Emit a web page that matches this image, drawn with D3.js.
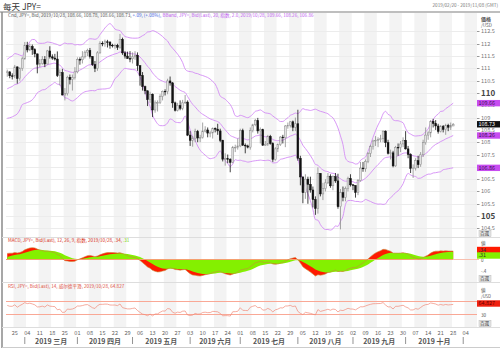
<!DOCTYPE html>
<html>
<head>
<meta charset="utf-8">
<script src="https://cdn.jsdelivr.net/npm/d3@7"></script>
<style>
  body { margin: 0; background: #fff; }
  svg { display: block; font-family: "Noto Sans CJK SC", "Noto Sans", sans-serif; }
</style>
</head>
<body>
<script>
// ---- data -------------------------------------------------------------
const title = "每天 JPY=";
const rangeText = "2019/02/20 - 2019/11/08 (GMT)";
const firstDay = new Date(Date.UTC(2019, 1, 20));
const lastDay = new Date(Date.UTC(2019, 10, 8));

// closes before the visible window (indicator warm-up)
const preCloses = [113.35, 112.51, 112.46, 111.42, 111.23, 110.29, 110.40, 111.35, 110.98, 110.28, 109.69,
  108.88, 107.67, 108.48, 108.71, 108.74, 108.17, 108.42, 108.48, 108.16, 108.66, 108.95, 109.23, 109.76,
  109.65, 109.37, 109.60, 109.63, 109.54, 109.36, 109.37, 109.00, 108.88, 109.49, 109.92, 109.96, 109.97,
  109.79, 109.73, 110.38, 110.48, 111.03, 110.47, 110.49, 110.62, 110.62];

// daily candles [open, high, low, close], 2019/02/20 .. 2019/10/28
const ohlc = [
  [110.84,110.95,110.66,110.86],[110.86,110.88,110.60,110.70],[110.70,110.80,110.55,110.69],
  [110.69,111.14,110.60,111.06],[111.06,111.08,110.38,110.59],[110.59,111.05,110.50,111.00],[111.00,111.48,110.90,111.39],[111.39,112.07,111.35,111.93],
  [111.93,112.08,111.65,111.75],[111.75,112.00,111.70,111.89],[111.89,111.97,111.55,111.76],[111.76,111.82,111.45,111.59],[111.59,111.60,110.80,111.17],
  [111.17,111.38,111.05,111.20],[111.20,111.50,111.15,111.36],[111.36,111.50,111.05,111.18],[111.18,111.75,111.16,111.71],[111.71,111.90,111.40,111.47],
  [111.47,111.57,111.35,111.42],[111.42,111.59,111.32,111.38],[111.38,111.69,110.65,110.71],[110.71,110.96,110.30,110.83],[110.83,110.98,109.90,109.92],
  [109.92,110.20,109.70,109.97],[109.97,110.70,109.90,110.64],[110.64,110.75,110.35,110.55],[110.55,110.75,110.10,110.63],[110.63,111.05,110.55,110.86],
  [110.86,111.45,110.80,111.36],[111.36,111.45,111.15,111.35],[111.35,111.70,111.20,111.47],[111.47,111.73,111.40,111.66],[111.66,111.80,111.50,111.73],
  [111.73,111.83,111.40,111.48],[111.48,111.50,111.10,111.15],[111.15,111.30,110.85,111.00],[111.00,111.70,110.90,111.63],[111.63,112.10,111.60,112.02],
  [112.02,112.10,111.90,112.01],[112.01,112.17,111.88,112.08],[112.08,112.16,111.85,112.07],[112.07,112.10,111.80,111.94],[111.94,112.00,111.85,111.93],
  [111.93,112.00,111.80,111.94],[111.94,112.00,111.75,111.86],[111.86,112.40,111.80,112.18],[112.18,112.25,111.55,111.63],[111.63,111.70,111.40,111.50],
  [111.50,111.68,111.40,111.40],[111.40,111.70,111.25,111.39],[111.39,111.65,111.20,111.47],[111.47,111.70,111.35,111.53],[111.53,111.65,110.90,111.11],
  [111.11,111.12,110.30,110.71],[110.71,110.85,110.10,110.26],[110.26,110.30,109.95,110.09],[110.09,110.10,109.47,109.73],[109.73,110.05,109.60,109.95],
  [109.95,109.98,109.02,109.31],[109.31,109.70,109.20,109.60],[109.60,109.70,109.25,109.61],[109.61,109.95,109.55,109.86],[109.86,110.10,109.70,110.07],
  [110.07,110.15,109.90,110.06],[110.06,110.58,109.95,110.49],[110.49,110.67,110.30,110.41],[110.41,110.45,109.40,109.60],[109.60,109.65,109.25,109.30],
  [109.30,109.60,109.25,109.49],[109.49,109.70,109.30,109.38],[109.38,109.72,109.30,109.60],[109.60,109.92,109.55,109.63],[109.63,109.70,108.25,108.29],
  [108.29,108.45,107.85,108.08],[108.08,108.25,107.82,108.15],[108.15,108.55,108.00,108.44],[108.44,108.50,108.00,108.17],[108.17,108.30,108.00,108.19],
  [108.19,108.80,108.15,108.45],[108.45,108.65,108.40,108.50],[108.50,108.60,108.20,108.37],[108.37,108.45,108.20,108.38],[108.38,108.60,108.15,108.56],
  [108.56,108.60,108.40,108.53],[108.53,108.75,108.30,108.46],[108.46,108.55,108.00,108.08],[108.08,108.10,107.22,107.31],[107.31,107.55,107.05,107.33],
  [107.33,107.50,107.15,107.31],[107.31,107.35,106.78,107.18],[107.18,107.85,107.15,107.78],[107.78,107.90,107.60,107.79],[107.79,108.15,107.70,107.85],
  [107.85,108.55,107.80,108.47],[108.47,108.55,107.85,107.88],[107.88,107.95,107.55,107.85],[107.85,107.90,107.75,107.80],[107.80,108.60,107.70,108.47],
  [108.47,108.75,108.40,108.71],[108.71,108.95,108.65,108.88],[108.88,108.99,108.35,108.46],[108.46,108.60,107.95,108.51],[108.51,108.55,107.85,107.88],
  [107.88,108.05,107.85,107.92],[107.92,108.30,107.85,108.24],[108.24,108.30,107.90,107.95],[107.95,108.00,107.20,107.30],[107.30,107.80,107.25,107.73],
  [107.73,107.95,107.60,107.90],[107.90,108.25,107.85,108.21],[108.21,108.30,107.95,108.18],[108.18,108.70,107.80,108.66],[108.66,108.80,108.55,108.69],
  [108.69,108.85,108.60,108.83],[108.83,108.88,108.45,108.61],[108.61,109.00,108.45,108.75],[108.75,109.32,107.25,107.35],[107.35,107.45,106.25,106.59],
  [106.59,106.60,105.52,105.95],[105.95,106.70,105.70,106.50],[106.50,106.60,105.50,106.29],[106.29,106.60,105.95,106.06],[106.06,106.20,105.35,105.67],
  [105.67,105.80,105.05,105.31],[105.31,106.98,105.10,106.73],[106.73,106.75,105.80,105.90],[105.90,106.35,105.65,106.12],[106.12,106.50,106.00,106.35],
  [106.35,106.75,106.30,106.62],[106.62,106.70,106.15,106.23],[106.23,106.65,106.05,106.60],[106.60,106.75,106.35,106.43],[106.43,106.72,105.30,105.38],
  [105.38,106.10,104.46,105.95],[105.95,106.20,105.60,105.76],[105.76,106.20,105.60,106.12],[106.12,106.60,106.00,106.52],[106.52,106.70,106.20,106.27],
  [106.27,106.30,106.05,106.24],[106.24,106.25,105.75,105.96],[105.96,106.50,105.85,106.44],[106.44,107.20,106.40,106.95],[106.95,107.20,106.80,106.92],
  [106.92,107.30,106.80,107.22],[107.22,107.60,107.15,107.55],[107.55,107.90,107.40,107.82],[107.82,108.10,107.70,108.05],[108.05,108.25,107.85,108.08],
  [108.08,108.20,107.80,108.11],[108.11,108.30,108.00,108.14],[108.14,108.48,108.00,108.45],[108.45,108.48,107.80,107.98],[107.98,108.10,107.50,107.55],
  [107.55,107.70,107.30,107.57],[107.57,107.65,106.98,107.04],[107.04,107.85,107.00,107.79],[107.79,107.95,107.45,107.78],[107.78,108.05,107.60,107.93],
  [107.93,108.20,107.80,108.08],[108.08,108.45,107.70,107.73],[107.73,107.85,107.35,107.50],[107.50,107.55,106.75,106.94],[106.94,107.10,106.55,106.95],
  [106.95,107.35,106.85,107.25],[107.25,107.45,106.95,107.09],[107.09,107.60,107.00,107.49],[107.49,108.10,107.40,107.98],[107.98,108.60,107.90,108.29],
  [108.29,108.45,108.10,108.38],[108.38,108.90,108.20,108.85],[108.85,108.95,108.60,108.76],[108.76,108.90,108.50,108.66],[108.66,108.75,108.35,108.44],
  [108.44,108.70,108.40,108.64],[108.64,108.70,108.40,108.52],[108.52,108.75,108.30,108.69],[108.69,108.75,108.45,108.61],[108.61,108.80,108.50,108.67],
  [108.66,108.78,108.66,108.73]
];

const priceTicks = [104.5, 105, 105.5, 106, 106.5, 107, 107.5, 108, 108.5, 109, 109.5, 110, 110.5, 111, 111.5, 112, 112.5];
const boldTicks = [105, 110];
const weekLabels = ["25","04","11","18","25","01","08","15","22","29","06","13","20","27","03","10","17","24",
  "01","08","15","22","29","05","12","19","26","02","09","16","23","30","07","14","21","28","04"];
const monthNames = ["三月","四月","五月","六月","七月","八月","九月","十月"];
const rsiLevels = [70, 30];

const legendMain = [
  ["Cnd, JPY=, Bid, 2019/10/28, 108.66, 108.78, 108.66, 108.73, ", "#555"],
  ["+.09, (+.08%), ", "#4060e0"],
  ["BBand, JPY=, Bid(Last), 20, 指数, 2.0, 2019/10/28, 109.66, 108.26, 106.86", "#c060f0"]
];
const legendMacd = [["MACD, JPY=, Bid(Last), 12, 26, 9, 指数, 2019/10/28, .34, ", "#d83020"], [".31", "#70d000"]];
const legendRsi = [["RSI, JPY=, Bid(Last), 14, 威尔德平滑, 2019/10/28, 64.827", "#e05040"]];

// ---- indicators -------------------------------------------------------
function ema(v, n) {
  const k = 2 / (n + 1), out = [];
  v.forEach((x, i) => out.push(i ? out[i - 1] + k * (x - out[i - 1]) : x));
  return out;
}
const closesAll = preCloses.concat(ohlc.map(d => d[3]));
const P = preCloses.length;
const mid = ema(closesAll, 20);
const sdev = closesAll.map((c, i) => {
  const w = closesAll.slice(Math.max(0, i - 19), i + 1);
  const m = d3.mean(w);
  return Math.sqrt(d3.mean(w, x => (x - m) ** 2));
});
const upper = mid.map((m, i) => m + 2 * sdev[i]).slice(P);
const lower = mid.map((m, i) => m - 2 * sdev[i]).slice(P);
const middle = mid.slice(P);

const e12 = ema(closesAll, 12), e26 = ema(closesAll, 26);
const macdAll = e12.map((v, i) => v - e26[i]);
const sigAll = ema(macdAll, 9);
const macd = macdAll.slice(P), signal = sigAll.slice(P);

let ag = 0, al = 0;
const rsiAll = closesAll.map((c, i) => {
  if (i === 0) return NaN;
  const ch = c - closesAll[i - 1], g = Math.max(ch, 0), l = Math.max(-ch, 0);
  if (i <= 14) { ag += g / 14; al += l / 14; return NaN; }
  ag = (ag * 13 + g) / 14; al = (al * 13 + l) / 14;
  return 100 - 100 / (1 + ag / al);
});
const rsi = rsiAll.slice(P);

// ---- layout -----------------------------------------------------------
const W = 500, H = 352;
const plotL = 6, plotR = 477;
const days = d3.utcDay.range(firstDay, d3.utcDay.offset(lastDay, 1)).filter(d => d.getUTCDay() % 6 !== 0);

const x = d3.scaleBand().domain(d3.range(days.length)).range([plotL, plotR]);
const step = x.step();
const cx = i => x(i) + step / 2;

const y = d3.scaleLinear().domain([104.15, 113.21]).range([237, 14]);
const ym = d3.scaleLinear().domain([-0.9, 0.9]).range([282, 237]);
const yr = d3.scaleLinear().domain([30, 70]).range([314.5, 301.5]);

const svg = d3.select("body").append("svg").attr("width", W).attr("height", H);

// weekly stripes
const mondays = days.map((d, i) => [d, i]).filter(([d]) => d.getUTCDay() === 1);
svg.append("g").selectAll("rect")
  .data(mondays.filter((m, k) => k % 2 === 0))
  .join("rect")
    .attr("x", ([, i]) => x(i))
    .attr("y", 13)
    .attr("width", step * 5)
    .attr("height", 314)
    .attr("fill", "#f3f3f3");

// frame
svg.append("line").attr("x1", 0).attr("x2", W).attr("y1", 12).attr("y2", 12).attr("stroke", "#a8a8a8").attr("stroke-width", 1.5);
svg.append("line").attr("x1", 2).attr("x2", 2).attr("y1", 12).attr("y2", 348).attr("stroke", "#8a8a8a").attr("stroke-width", 1.5);
svg.append("line").attr("x1", 2).attr("x2", W).attr("y1", 347.5).attr("y2", 347.5).attr("stroke", "#ccc");
[237.5, 282.5, 327.5].forEach(v =>
  svg.append("line").attr("x1", 2).attr("x2", W).attr("y1", v).attr("y2", v).attr("stroke", "#ddd"));

// header
svg.append("text").attr("x", 3).attr("y", 10).attr("font-size", 8.5).attr("fill", "#333").text(title);
svg.append("text").attr("x", 498).attr("y", 7).attr("text-anchor", "end").attr("font-size", 4.6).attr("fill", "#777").text(rangeText);

// price grid + axis
const gy = svg.append("g");
gy.selectAll("line.grid").data(priceTicks).join("line")
  .attr("class", "grid")
  .attr("x1", plotL).attr("x2", plotR)
  .attr("y1", d => Math.round(y(d)) + 0.5).attr("y2", d => Math.round(y(d)) + 0.5)
  .attr("stroke", "#ececec");
gy.selectAll("line.tick").data(priceTicks).join("line")
  .attr("class", "tick")
  .attr("x1", plotR).attr("x2", plotR + 2.5)
  .attr("y1", d => Math.round(y(d)) + 0.5).attr("y2", d => Math.round(y(d)) + 0.5)
  .attr("stroke", "#999");
gy.selectAll("text").data(priceTicks).join("text")
  .attr("x", 481)
  .attr("y", d => y(d))
  .attr("dy", "0.35em")
  .attr("font-size", d => boldTicks.includes(d) ? 8 : 5.6)
  .attr("font-weight", d => boldTicks.includes(d) ? "bold" : "normal")
  .attr("fill", d => boldTicks.includes(d) ? "#444" : "#777")
  .text(d => d);
svg.append("text").attr("x", 481).attr("y", 21).attr("font-size", 5).attr("font-weight", "bold").attr("fill", "#555").text("価格");
svg.append("text").attr("x", 481).attr("y", 27).attr("font-size", 4.6).attr("fill", "#555").text("/USD");

// bollinger bands
const bandLine = d3.line().x((d, i) => cx(i)).y(d => y(d)).curve(d3.curveMonotoneX);
[upper, middle, lower].forEach(s =>
  svg.append("path").attr("d", bandLine(s)).attr("fill", "none").attr("stroke", "#d48cf5").attr("stroke-width", 0.9));

// candles
const candle = svg.append("g").selectAll("g").data(ohlc).join("g");
candle.append("line")
  .attr("x1", (d, i) => cx(i)).attr("x2", (d, i) => cx(i))
  .attr("y1", d => y(d[1])).attr("y2", d => y(d[2]))
  .attr("stroke", d => d[3] >= d[0] ? "#8c8c8c" : "#111")
  .attr("stroke-width", 0.8);
candle.append("rect")
  .attr("x", (d, i) => cx(i) - 0.9)
  .attr("width", 1.8)
  .attr("y", d => y(Math.max(d[0], d[3])))
  .attr("height", d => Math.max(0.6, Math.abs(y(d[0]) - y(d[3]))))
  .attr("fill", d => d[3] >= d[0] ? "#e2e2e2" : "#111")
  .attr("stroke", d => d[3] >= d[0] ? "#8c8c8c" : "#111")
  .attr("stroke-width", 0.5);

// legends
function legend(parts, yy) {
  const t = svg.append("text").attr("x", 8).attr("y", yy).attr("font-size", 4.6);
  parts.forEach(([s, c]) => t.append("tspan").attr("fill", c).text(s));
}
legend(legendMain, 16.5);
legend(legendMacd, 242);
legend(legendRsi, 288);

// MACD panel
const n = ohlc.length;
const idx = d3.range(n);
const area = s => d3.area().x(i => cx(i)).y0(ym(0)).y1(i => ym(s[i]))(idx);
svg.append("path").attr("d", area(macd)).attr("fill", "#ff1a00");
svg.append("path").attr("d", area(signal)).attr("fill", "#84f000");
svg.append("line").attr("x1", plotL).attr("x2", cx(n - 1)).attr("y1", ym(0)).attr("y2", ym(0)).attr("stroke", "#f4a070").attr("stroke-width", 1.2);
svg.append("line").attr("x1", cx(n - 1)).attr("x2", plotR + 2).attr("y1", ym(0)).attr("y2", ym(0)).attr("stroke", "#f8c0b0").attr("stroke-width", 1);
svg.append("path").attr("d", d3.line().x(i => cx(i)).y(i => ym(macd[i]))(idx))
  .attr("fill", "none").attr("stroke", "#c88a3a").attr("stroke-width", 0.6);

// RSI panel
rsiLevels.forEach(v =>
  svg.append("line").attr("x1", plotL).attr("x2", plotR).attr("y1", yr(v)).attr("y2", yr(v)).attr("stroke", "#f9a896").attr("stroke-width", 1.2));
svg.append("path").attr("d", d3.line().x(i => cx(i)).y(i => yr(rsi[i]))(idx))
  .attr("fill", "none").attr("stroke", "#f08a78").attr("stroke-width", 0.7);

// right-side small labels
const small = (txt, xx, yy, size = 5, col = "#555") =>
  svg.append("text").attr("x", xx).attr("y", yy).attr("dy", "0.35em").attr("font-size", size).attr("fill", col).text(txt);
small("値", 481, 243.5, 4.6);
small("0", 481, ym(0) + 1, 4.6);
small("-.4", 481, 271, 4.6);
small("値", 481, 290.5, 4.6);
small("/USD", 481, 296.5, 4.2);
small("30", 481, yr(30) + 0.5, 4.6);

// "百選" buttons
[233.5, 278.5, 323.5].forEach(v => {
  svg.append("rect").attr("x", 479).attr("y", v - 3.2).attr("width", 12).attr("height", 6.4).attr("fill", "#e6e6e6").attr("stroke", "#bbb").attr("stroke-width", 0.5);
  small("百選", 480, v, 4.6, "#444");
});

// value badges
function badge(yy, fill, col, txt) {
  svg.append("rect").attr("x", 477).attr("y", yy - 3.2).attr("width", 23).attr("height", 6.4).attr("fill", fill);
  small(txt, 478.5, yy, 5.4, col);
}
const last = n - 1;
badge(y(upper[last]), "#c74cf0", "#3a1050", "109.66");
badge(y(ohlc[last][3]), "#111", "#fff", "108.73");
badge(y(middle[last]), "#c74cf0", "#3a1050", "108.26");
badge(y(lower[last]), "#c74cf0", "#3a1050", "106.86");
badge(250, "#ff1a00", "#333", ".34");
badge(255.5, "#84f000", "#333", ".31");
badge(303.5, "#f02010", "#600", "64.827");

// x axis: week labels
mondays.forEach(([d, i], k) => {
  svg.append("text").attr("x", cx(i)).attr("y", 335).attr("text-anchor", "middle")
    .attr("font-size", 5.6).attr("fill", "#666").text(weekLabels[k]);
});

// month labels + separators
const monthStarts = [];
days.forEach((d, i) => { if (i > 0 && d.getUTCMonth() !== days[i - 1].getUTCMonth()) monthStarts.push(i); });
monthStarts.forEach(i =>
  svg.append("line").attr("x1", cx(i)).attr("x2", cx(i)).attr("y1", 337).attr("y2", 344).attr("stroke", "#777").attr("stroke-width", 0.8));
monthNames.forEach((m, k) => {
  const a = cx(monthStarts[k]), b = cx(monthStarts[k + 1]);
  svg.append("text").attr("x", (a + b) / 2).attr("y", 343.5).attr("text-anchor", "middle")
    .attr("font-size", 7).attr("font-weight", "bold").attr("fill", "#555").text("2019 " + m);
});
</script>
</body>
</html>
